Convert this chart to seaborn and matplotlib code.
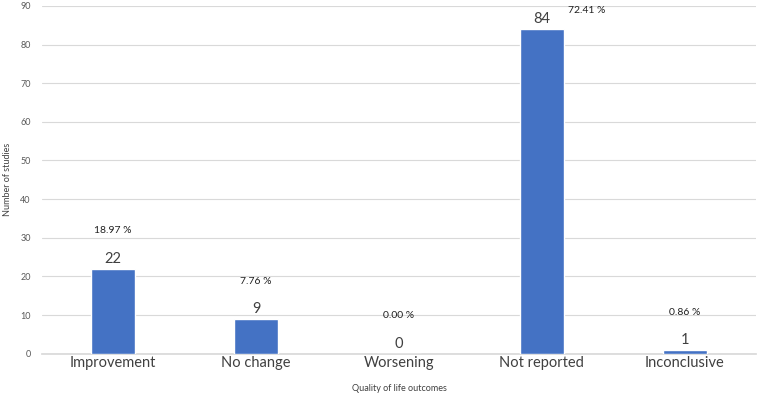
import matplotlib
matplotlib.use("Agg")
import matplotlib.pyplot as plt
import seaborn as sns
import pandas as pd

categories = ["Improvement", "No change", "Worsening", "Not reported", "Inconclusive"]
counts = [22, 9, 0, 84, 1]
percent_labels = ["18.97 %", "7.76 %", "0.00 %", "72.41 %", "0.86 %"]

df = pd.DataFrame({"outcome": categories, "studies": counts})

sns.set_theme(style="white")
plt.rcParams["font.family"] = ["Lato", "DejaVu Sans"]

fig, ax = plt.subplots(figsize=(7.6, 3.93), dpi=100)
fig.subplots_adjust(left=0.055, right=0.995, top=0.985, bottom=0.10)

sns.barplot(data=df, x="outcome", y="studies", color="#4472C4", width=0.31,
            saturation=1, ax=ax, zorder=3)

ax.set_ylim(0, 90)
ax.set_yticks(range(0, 91, 10))
ax.yaxis.grid(True, color="#D9D9D9", linewidth=0.8, zorder=0)
for s in ["top", "right", "left"]:
    ax.spines[s].set_visible(False)
ax.spines["bottom"].set_color("#D9D9D9")
ax.tick_params(axis="y", labelsize=6.5, labelcolor="#595959", length=0, pad=8)
ax.tick_params(axis="x", labelsize=10.5, labelcolor="#404040", length=0, pad=2)
ax.set_xlabel("Quality of life outcomes", fontsize=6.5, color="#404040", labelpad=10)
ax.set_ylabel("Number of studies", fontsize=6.5, color="#404040", labelpad=6)

for i, (c, p) in enumerate(zip(counts, percent_labels)):
    ax.annotate(str(c), (i, c), xytext=(0, 2), textcoords="offset points",
                ha="center", va="bottom", fontsize=10.5, color="#404040")
    if c == max(counts):
        ax.annotate(p, (i, c), xytext=(32, 10), textcoords="offset points",
                    ha="center", va="bottom", fontsize=7.5, color="#202020")
    else:
        ax.annotate(p, (i, c), xytext=(0, 24), textcoords="offset points",
                    ha="center", va="bottom", fontsize=7.5, color="#202020")

fig.savefig("out.png", dpi=100)
